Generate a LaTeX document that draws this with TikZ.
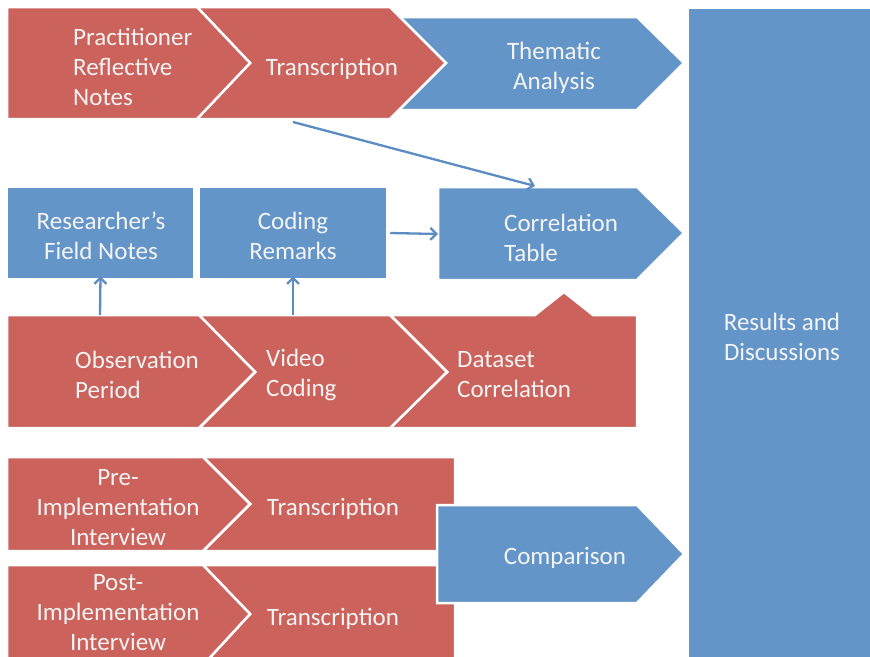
\documentclass[tikz,border=0pt]{standalone}
\usepackage{fontspec}
\setmainfont{Carlito}
\usetikzlibrary{arrows.meta}
\definecolor{sred}{HTML}{CB625C}
\definecolor{sblue}{HTML}{6495C8}
\definecolor{stext}{HTML}{F4F4F4}
\definecolor{sarrow}{HTML}{5B8CC2}
\begin{document}
\begin{tikzpicture}[x=1pt,y=-1pt,
  redshape/.style={fill=sred, draw=white, line width=2.5pt, line join=miter},
  blueshape/.style={fill=sblue, draw=white, line width=2.5pt, line join=miter},
  bluebox/.style={fill=sblue, draw=white, line width=2.5pt, inner sep=0pt},
  lbl/.style={text=stext, font=\fontsize{25}{30}\selectfont, inner sep=0pt},
  conn/.style={draw=sarrow, line width=2.3pt, -{Straight Barb[length=6pt, width=12pt, line width=2.3pt]}}]
\clip (0,0) rectangle (870,656);
\fill[white] (0,0) rectangle (870,656);
% Results
\node[bluebox, minimum width=187pt, minimum height=652pt] (res) at (781.5,334) {};
\node[lbl, align=center] (restxt) at (782,337) {Results and\\Discussions};
% Top row
\path[blueshape] (395,17) -- (637,17) -- (684,63) -- (637,110) -- (395,110) -- cycle;
\path[redshape] (197,7) -- (390,7) -- (446,63) -- (390,119) -- (197,119) -- (250,63) -- cycle;
\path[redshape] (7,7) -- (197,7) -- (250,63) -- (197,119) -- (7,119) -- cycle;
\node[lbl, anchor=west, align=left] (prn) at (73,67) {Practitioner\\Reflective\\Notes};
\node[lbl] (tr1) at (332,69) {Transcription};
\node[lbl, align=center] (tha) at (554,68) {Thematic\\Analysis};
% Row 2
\node[bluebox, minimum width=187pt, minimum height=92pt] (rf) at (100.5,233) {};
\node[bluebox, minimum width=188pt, minimum height=92pt] (cr) at (293,233) {};
\node[lbl, align=center] (rftxt) at (101,236) {Researcher’s\\Field Notes};
\node[lbl, align=center] (crtxt) at (293,236) {Coding\\Remarks};
\path[blueshape] (438,187) -- (637,187) -- (684,233) -- (637,280) -- (438,280) -- cycle;
\node[lbl, anchor=west, align=left] (ctb) at (504,238) {Correlation\\Table};
\coordinate (ctW) at (438,234);
\coordinate (ctN) at (535,186);
\coordinate (tr1S) at (293,122);
% Row 3
\path[redshape] (390,315) -- (535,315) -- (564,292) -- (593,315) -- (637,315) -- (637,428) -- (390,428) -- (447,372) -- cycle;
\path[redshape] (199,315) -- (390,315) -- (447,372) -- (390,428) -- (199,428) -- (255,372) -- cycle;
\path[redshape] (7,315) -- (199,315) -- (255,372) -- (199,428) -- (7,428) -- cycle;
\node[lbl, anchor=west, align=left] (obs) at (75,375) {Observation\\Period};
\node[lbl, anchor=west, align=left] (vid) at (266,375) {Video\\Coding};
\node[lbl, anchor=west, align=left] (dsc) at (457,375) {Dataset\\Correlation};
\coordinate (obsN) at (100,315);
\coordinate (vidN) at (293,315);
% Row 4
\path[redshape] (203,457) -- (455,457) -- (455,551) -- (203,551) -- (250,504) -- cycle;
\path[redshape] (7,457) -- (203,457) -- (250,504) -- (203,551) -- (7,551) -- cycle;
\path[redshape] (203,565) -- (455,565) -- (455,665) -- (203,665) -- (250,614) -- cycle;
\path[redshape] (7,565) -- (203,565) -- (250,614) -- (203,665) -- (7,665) -- cycle;
\path[blueshape] (437,505) -- (637,505) -- (684,554) -- (637,603) -- (437,603) -- cycle;
\node[lbl, align=center] (pre) at (118,508) {Pre-\\Implementation\\Interview};
\node[lbl] (tr2) at (333,509) {Transcription};
\node[lbl, align=center] (post) at (118,613) {Post-\\Implementation\\Interview};
\node[lbl] (tr3) at (333,619) {Transcription};
\node[lbl] (cmp) at (565,558) {Comparison};
% Connectors
\draw[conn] (tr1S) -- (ctN);
\draw[conn] (cr.east) ++(2pt,0) -- (ctW);
\draw[conn] (obsN) -- ([yshift=4pt]rf.south);
\draw[conn] (vidN) -- ([yshift=4pt]cr.south);
\end{tikzpicture}
\end{document}
